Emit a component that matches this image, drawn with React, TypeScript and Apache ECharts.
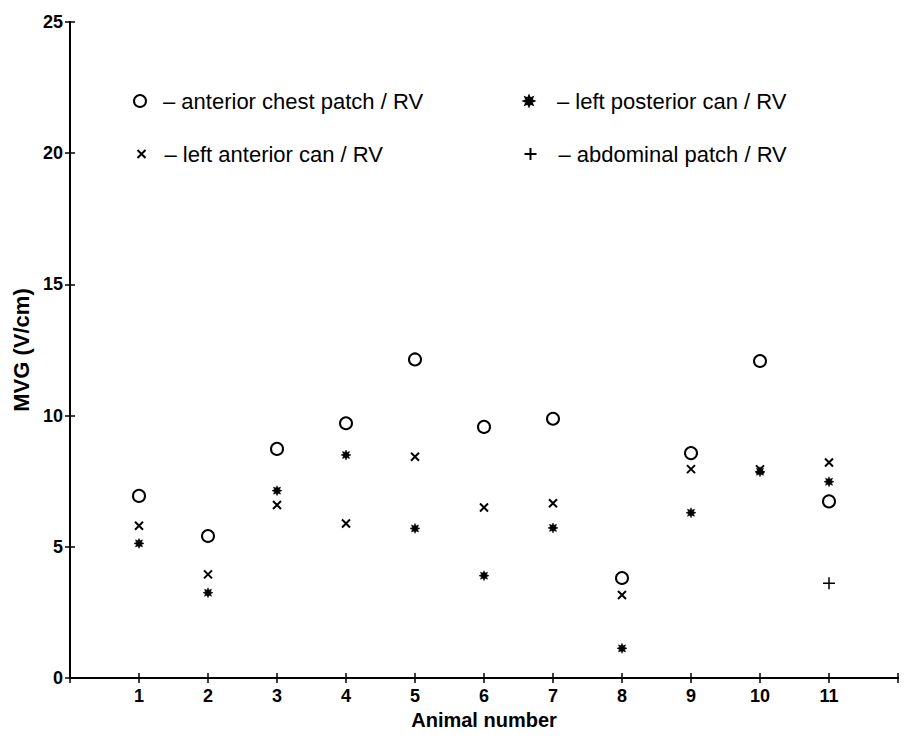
import React, { useEffect, useRef } from "react";
import * as echarts from "echarts";

const animals = [1, 2, 3, 4, 5, 6, 7, 8, 9, 10, 11];
const anteriorChestPatch = [6.94, 5.41, 8.73, 9.71, 12.14, 9.57, 9.88, 3.81, 8.57, 12.08, 6.73];
const leftPosteriorCan = [5.13, 3.25, 7.14, 8.5, 5.7, 3.9, 5.72, 1.13, 6.3, 7.86, 7.48];
const leftAnteriorCan = [5.8, 3.95, 6.59, 5.89, 8.43, 6.5, 6.66, 3.16, 7.96, 7.95, 8.21];
const abdominalPatch = [null, null, null, null, null, null, null, null, null, null, 3.61];
const yTicks = [0, 5, 10, 15, 20, 25];

const seriesNames = [
  "anterior chest patch / RV",
  "left anterior can / RV",
  "left posterior can / RV",
  "abdominal patch / RV",
];

function starPath(): string {
  const pts: string[] = [];
  const n = 8;
  for (let i = 0; i < n * 2; i++) {
    const r = i % 2 === 0 ? 10 : 5.5;
    const a = (Math.PI * i) / n - Math.PI / 2;
    pts.push(`${(10 + r * Math.cos(a)).toFixed(2)},${(10 + r * Math.sin(a)).toFixed(2)}`);
  }
  return "path://M" + pts.join(" L") + " Z";
}

const CROSS = "path://M0,0 L10,10 M10,0 L0,10";
const PLUS = "path://M5,0 L5,10 M0,5 L10,5";
const STAR = starPath();

const SIZES = [12, 8, 10, 12];

function pairs(vals: (number | null)[]) {
  return animals
    .map((a, i) => (vals[i] == null ? null : [a, vals[i] as number]))
    .filter((d) => d !== null);
}

export default function App() {
  const ref = useRef<HTMLDivElement>(null);
  useEffect(() => {
    document.body.style.margin = "0";
    const chart = echarts.init(ref.current!, null, { renderer: "svg" });
    const font = "'Liberation Sans', Arial, Helvetica, sans-serif";
    const axisLine = { show: true, lineStyle: { color: "#000", width: 2 } };
    const tick = { show: true, inside: true, length: 5, lineStyle: { color: "#000", width: 1.5 } };

    const legendAt = (idx: number, cx: number, cy: number, textX: number) => ({
      data: [seriesNames[idx]],
      orient: "vertical",
      left: cx - SIZES[idx] / 2,
      top: cy - 13,
      padding: 0,
      itemWidth: SIZES[idx],
      itemHeight: SIZES[idx],
      selectedMode: false,
      formatter: (n: string) => "– " + n,
      textStyle: {
        fontSize: 22,
        color: "#000",
        fontFamily: font,
        padding: [0, 0, 0, textX - (cx + SIZES[idx] / 2 + 5)],
        lineHeight: 26,
      },
    });

    chart.setOption({
      animation: false,
      backgroundColor: "#fff",
      textStyle: { fontFamily: font },
      grid: { left: 70, right: 7, top: 22, bottom: 62 },
      legend: [
        legendAt(0, 139, 101, 162),
        legendAt(1, 139, 154, 162),
        legendAt(2, 528, 101, 556),
        legendAt(3, 528, 154, 556),
      ],
      xAxis: [
        {
          type: "value",
          position: "bottom",
          min: 0,
          max: 12,
          interval: 1,
          name: "Animal number",
          nameLocation: "middle",
          nameGap: 30,
          nameTextStyle: { fontSize: 20, fontWeight: "bold", color: "#000", fontFamily: font },
          axisLine,
          axisTick: tick,
          splitLine: { show: false },
          axisLabel: {
            margin: 9,
            fontSize: 18,
            fontWeight: "bold",
            color: "#000",
            fontFamily: font,
            formatter: (v: number) => (v >= animals[0] && v <= animals[animals.length - 1] ? String(v) : ""),
          },
        },
        {
          type: "value",
          position: "top",
          min: 0,
          max: 12,
          interval: 1,
          axisLine,
          axisTick: tick,
          splitLine: { show: false },
          axisLabel: { show: false },
        },
      ],
      yAxis: [
        {
          type: "value",
          position: "left",
          min: yTicks[0],
          max: yTicks[yTicks.length - 1],
          interval: 5,
          name: "MVG (V/cm)",
          nameLocation: "middle",
          nameGap: 31,
          nameTextStyle: { fontSize: 22, fontWeight: "bold", color: "#000", fontFamily: font },
          axisLine,
          axisTick: tick,
          splitLine: { show: false },
          axisLabel: { margin: 7, fontSize: 18, fontWeight: "bold", color: "#000", fontFamily: font },
        },
        {
          type: "value",
          position: "right",
          min: yTicks[0],
          max: yTicks[yTicks.length - 1],
          interval: 5,
          axisLine,
          axisTick: tick,
          splitLine: { show: false },
          axisLabel: { show: false },
        },
      ],
      series: [
        {
          name: seriesNames[0],
          type: "scatter",
          symbol: "circle",
          symbolSize: SIZES[0],
          itemStyle: { color: "#fff", borderColor: "#000", borderWidth: 2, opacity: 1 },
          data: pairs(anteriorChestPatch),
        },
        {
          name: seriesNames[1],
          type: "scatter",
          symbol: CROSS,
          symbolSize: SIZES[1],
          itemStyle: { color: "none", borderColor: "#000", borderWidth: 2, opacity: 1 },
          data: pairs(leftAnteriorCan),
        },
        {
          name: seriesNames[2],
          type: "scatter",
          symbol: STAR,
          symbolSize: SIZES[2],
          itemStyle: { color: "#000", borderColor: "#000", borderWidth: 0.5, opacity: 1 },
          data: pairs(leftPosteriorCan),
        },
        {
          name: seriesNames[3],
          type: "scatter",
          symbol: PLUS,
          symbolSize: SIZES[3],
          itemStyle: { color: "none", borderColor: "#000", borderWidth: 1.5, opacity: 1 },
          data: pairs(abdominalPatch),
        },
      ],
    });
    return () => chart.dispose();
  }, []);
  return <div ref={ref} style={{ width: 905, height: 740, background: "#fff" }} />;
}
